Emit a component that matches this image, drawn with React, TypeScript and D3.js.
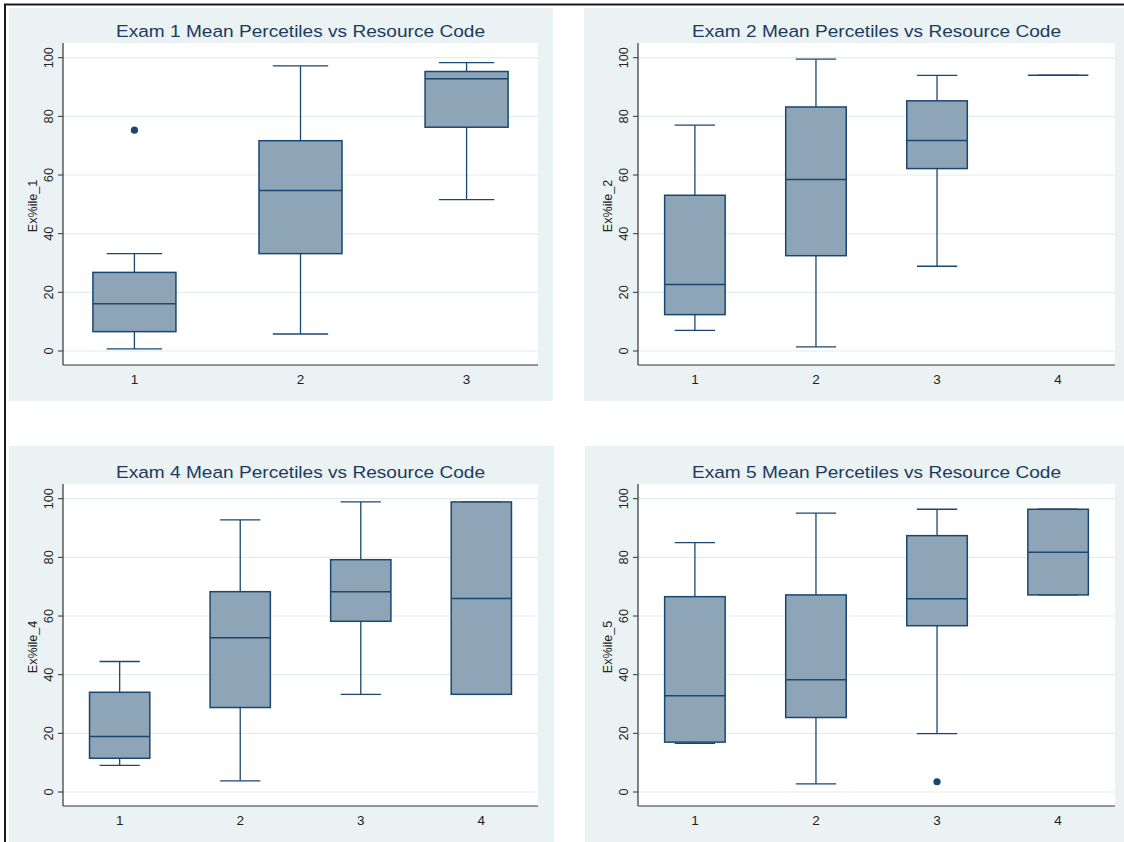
import React from 'react';
import * as d3 from 'd3';

// ---------- data ----------
const yTicks = [0, 20, 40, 60, 80, 100];

const exam1Codes = ['1', '2', '3'];
const exam1Lower = [0.7, 5.8, 51.6];
const exam1Q1 = [6.6, 33.2, 76.3];
const exam1Median = [16.1, 54.7, 92.8];
const exam1Q3 = [26.8, 71.7, 95.3];
const exam1Upper = [33.2, 97.2, 98.3];
const exam1Outliers = [{ code: '1', value: 75.3 }];

const exam2Codes = ['1', '2', '3', '4'];
const exam2Lower = [7.0, 1.4, 28.9, 94.0];
const exam2Q1 = [12.4, 32.5, 62.2, 94.0];
const exam2Median = [22.7, 58.5, 71.8, 94.0];
const exam2Q3 = [53.1, 83.2, 85.3, 94.0];
const exam2Upper = [77.0, 99.5, 94.0, 94.0];
const exam2Outliers: { code: string; value: number }[] = [];

const exam4Codes = ['1', '2', '3', '4'];
const exam4Lower = [9.1, 3.8, 33.3, 33.3];
const exam4Q1 = [11.5, 28.8, 58.2, 33.3];
const exam4Median = [18.9, 52.6, 68.3, 66.0];
const exam4Q3 = [34.0, 68.3, 79.2, 98.9];
const exam4Upper = [44.5, 92.8, 98.9, 98.9];
const exam4Outliers: { code: string; value: number }[] = [];

const exam5Codes = ['1', '2', '3', '4'];
const exam5Lower = [16.6, 2.8, 19.9, 67.2];
const exam5Q1 = [17.0, 25.4, 56.7, 67.2];
const exam5Median = [32.8, 38.3, 65.9, 81.7];
const exam5Q3 = [66.6, 67.2, 87.4, 96.4];
const exam5Upper = [85.0, 95.1, 96.4, 96.4];
const exam5Outliers = [{ code: '3', value: 3.5 }];

const titles = [
  'Exam 1 Mean Percetiles vs Resource Code',
  'Exam 2 Mean Percetiles vs Resource Code',
  'Exam 4 Mean Percetiles vs Resource Code',
  'Exam 5 Mean Percetiles vs Resource Code',
];
const yTitles = ['Ex%ile_1', 'Ex%ile_2', 'Ex%ile_4', 'Ex%ile_5'];

// ---------- styles ----------
const BG = '#eaf2f3';
const GRID = '#e4ecee';
const NAVY = '#1a476f';
const FILL = '#8ea4b7';
const TITLE = '#1c3a5e';
const FONT = '"Liberation Sans", Arial, Helvetica, sans-serif';

type Outlier = { code: string; value: number };
type PanelProps = {
  title: string;
  yTitle: string;
  codes: string[];
  lower: number[];
  q1: number[];
  median: number[];
  q3: number[];
  upper: number[];
  outliers: Outlier[];
  bg: [number, number, number, number];
  plotLeft: number;
  plotRight: number;
  plotTop: number;
  plotBottom: number;
  y0: number;
  y100: number;
};

function Panel(p: PanelProps) {
  const pad = p.codes.length === 3 ? 0.43 : 0.47;
  const x = d3.scalePoint<string>().domain(p.codes).range([p.plotLeft, p.plotRight]).padding(pad);
  const y = d3.scaleLinear().domain([0, 100]).range([p.y0, p.y100]);
  const step = x.step();
  const boxW = step * 0.5;
  const capW = step / 3;
  const midX = (p.plotLeft + p.plotRight) / 2;
  const midY = (p.plotTop + p.plotBottom) / 2;

  return (
    <g>
      <rect x={p.bg[0]} y={p.bg[1]} width={p.bg[2] - p.bg[0]} height={p.bg[3] - p.bg[1]} fill={BG} />
      <rect x={p.plotLeft} y={p.plotTop} width={p.plotRight - p.plotLeft} height={p.plotBottom - p.plotTop} fill="#ffffff" />
      {yTicks.map((t) => (
        <line key={'g' + t} x1={p.plotLeft} x2={p.plotRight} y1={y(t)} y2={y(t)} stroke={GRID} strokeWidth={1.2} />
      ))}
      <text
        x={midX}
        y={p.plotTop - 6}
        textAnchor="middle"
        fontFamily={FONT}
        fontSize={17.4}
        fill={TITLE}
        textLength={369}
        lengthAdjust="spacingAndGlyphs"
      >
        {p.title}
      </text>
      {p.codes.map((c, i) => {
        const cx = x(c) as number;
        return (
          <g key={c}>
            <line x1={cx} x2={cx} y1={y(p.upper[i])} y2={y(p.q3[i])} stroke={NAVY} strokeWidth={1.3} />
            <line x1={cx} x2={cx} y1={y(p.q1[i])} y2={y(p.lower[i])} stroke={NAVY} strokeWidth={1.3} />
            <line x1={cx - capW / 2} x2={cx + capW / 2} y1={y(p.upper[i])} y2={y(p.upper[i])} stroke={NAVY} strokeWidth={1.3} />
            <line x1={cx - capW / 2} x2={cx + capW / 2} y1={y(p.lower[i])} y2={y(p.lower[i])} stroke={NAVY} strokeWidth={1.3} />
            <rect
              x={cx - boxW / 2}
              y={y(p.q3[i])}
              width={boxW}
              height={Math.max(0, y(p.q1[i]) - y(p.q3[i]))}
              fill={FILL}
              stroke={NAVY}
              strokeWidth={1.5}
            />
            <line x1={cx - boxW / 2} x2={cx + boxW / 2} y1={y(p.median[i])} y2={y(p.median[i])} stroke={NAVY} strokeWidth={1.5} />
          </g>
        );
      })}
      {p.outliers.map((o, i) => (
        <circle key={'o' + i} cx={x(o.code) as number} cy={y(o.value)} r={3.6} fill={NAVY} />
      ))}
      {/* y axis */}
      <line x1={p.plotLeft} x2={p.plotLeft} y1={p.plotTop} y2={p.plotBottom} stroke="#333" strokeWidth={1.2} />
      {yTicks.map((t) => (
        <g key={'t' + t}>
          <line x1={p.plotLeft - 5} x2={p.plotLeft} y1={y(t)} y2={y(t)} stroke="#333" strokeWidth={1} />
          <text
            transform={`translate(${p.plotLeft - 10},${y(t)}) rotate(-90)`}
            textAnchor="middle"
            fontFamily={FONT}
            fontSize={12.8}
            fill="#222"
          >
            {t}
          </text>
        </g>
      ))}
      <text
        transform={`translate(${p.plotLeft - 26},${midY + 2}) rotate(-90)`}
        textAnchor="middle"
        fontFamily={FONT}
        fontSize={12.6}
        fill="#222"
      >
        {p.yTitle}
      </text>
      {/* x axis */}
      <line x1={p.plotLeft} x2={p.plotRight} y1={p.plotBottom} y2={p.plotBottom} stroke="#333" strokeWidth={1.2} />
      {p.codes.map((c) => (
        <text key={'x' + c} x={x(c) as number} y={p.plotBottom + 19} textAnchor="middle" fontFamily={FONT} fontSize={13.5} fill="#222">
          {c}
        </text>
      ))}
    </g>
  );
}

export default function App() {
  const top = { plotTop: 43, plotBottom: 365, y0: 351, y100: 57.7 };
  const off = 441;
  const bottom = { plotTop: 43 + off, plotBottom: 365 + off, y0: 351 + off, y100: 57.7 + off };
  return (
    <svg width={1124} height={842} style={{ position: 'absolute', left: 0, top: 0, background: '#fff' }}>
      <rect x={0} y={0} width={1124} height={842} fill="#ffffff" />
      <Panel
        title={titles[0]} yTitle={yTitles[0]} codes={exam1Codes}
        lower={exam1Lower} q1={exam1Q1} median={exam1Median} q3={exam1Q3} upper={exam1Upper} outliers={exam1Outliers}
        bg={[9, 8, 553, 401]} plotLeft={63} plotRight={538} {...top}
      />
      <Panel
        title={titles[1]} yTitle={yTitles[1]} codes={exam2Codes}
        lower={exam2Lower} q1={exam2Q1} median={exam2Median} q3={exam2Q3} upper={exam2Upper} outliers={exam2Outliers}
        bg={[584, 8, 1124, 401]} plotLeft={638} plotRight={1115} {...top}
      />
      <Panel
        title={titles[2]} yTitle={yTitles[2]} codes={exam4Codes}
        lower={exam4Lower} q1={exam4Q1} median={exam4Median} q3={exam4Q3} upper={exam4Upper} outliers={exam4Outliers}
        bg={[9, 446, 554, 842]} plotLeft={63} plotRight={538} {...bottom}
      />
      <Panel
        title={titles[3]} yTitle={yTitles[3]} codes={exam5Codes}
        lower={exam5Lower} q1={exam5Q1} median={exam5Median} q3={exam5Q3} upper={exam5Upper} outliers={exam5Outliers}
        bg={[585, 446, 1124, 842]} plotLeft={638} plotRight={1115} {...bottom}
      />
      {/* outer frame */}
      <line x1={4} x2={1124} y1={4.5} y2={4.5} stroke="#1a1a1a" strokeWidth={2} />
      <line x1={5} x2={5} y1={4} y2={842} stroke="#1a1a1a" strokeWidth={2} />
    </svg>
  );
}
